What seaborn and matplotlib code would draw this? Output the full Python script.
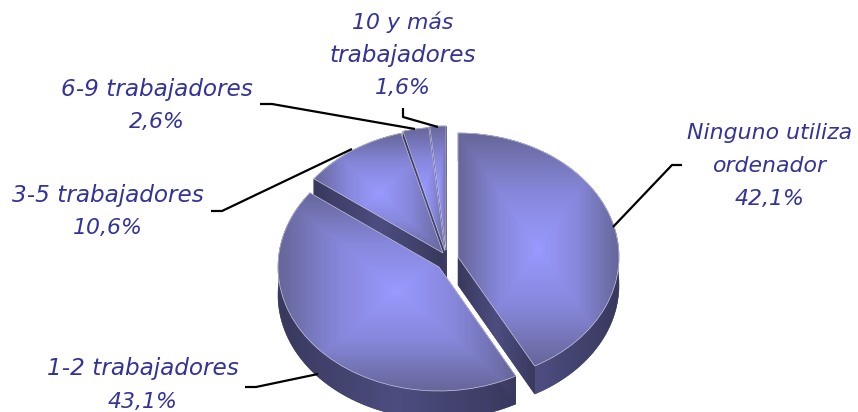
import numpy as np
import matplotlib
matplotlib.use("Agg")
import matplotlib.pyplot as plt
from matplotlib.patches import Polygon
import seaborn as sns

sns.set_theme(style="white")
plt.rcParams['font.family'] = ['DejaVu Sans']

# data, clockwise from 12 o'clock
categories = ["Ninguno utiliza\nordenador", "1-2 trabajadores", "3-5 trabajadores",
              "6-9 trabajadores", "10 y más\ntrabajadores"]
shares = [42.1, 43.1, 10.6, 2.6, 1.6]

# where things sit on the 858x412 canvas (pixels)
apex_px = [(458, 257), (439, 267), (443, 253), (445, 251), (446, 250)]
label_px = [(770, 133), (143, 369), (108, 195), (157, 89), (403, 22)]
leader_px = [
    [(682, 165), (672, 165), (613, 227)],
    [(245, 387), (256, 387), (318, 374)],
    [(211, 211), (222, 211), (352, 149)],
    [(260, 104), (272, 104), (415, 129)],
    [(403, 108), (403, 117), (438, 127)],
]
RX, RY, DEPTH = 161, 124, 28
W, H = 858, 412

top_cmap = sns.blend_palette(["#9999FF", "#8686da", "#666699"], as_cmap=True)
wall_cmap = sns.blend_palette(["#39395e", "#4d4d80", "#39395e"], as_cmap=True)

fig = plt.figure(figsize=(W / 100, H / 100), dpi=100)
ax = fig.add_axes([0, 0, 1, 1])
wedges, _ = ax.pie(shares, startangle=90, counterclock=False, radius=1,
                   wedgeprops=dict(facecolor="none", edgecolor="#c4c4e0", linewidth=0.5))


def shade(clip, box, values, cmap, z):
    im = ax.imshow(values, extent=box, cmap=cmap, vmin=0, vmax=1, aspect="auto",
                   interpolation="bilinear", zorder=z)
    im.set_clip_path(clip)


def wall(points, z):
    points = np.array(points)
    poly = Polygon(points, closed=True, facecolor="#3f3f68", edgecolor="#3f3f68",
                   linewidth=0.4, zorder=z)
    ax.add_patch(poly)
    x0, x1 = points[:, 0].min(), points[:, 0].max()
    y0, y1 = points[:, 1].min(), points[:, 1].max()
    shade(poly, (x0, x1, y0, y1), np.linspace(0, 1, 200)[None, :], wall_cmap, z + 0.01)


dy = DEPTH / RY
z = 2
# back to front
for i in [4, 3, 2, 0, 1]:
    w = wedges[i]
    cx, cy = apex_px[i][0] / RX, (H - apex_px[i][1]) / RY
    w.set_center((cx, cy))

    t = np.radians(np.linspace(w.theta1, w.theta2, 80))
    arc = np.column_stack([cx + np.cos(t), cy + np.sin(t)])
    down = np.array([0, dy])

    wall(np.vstack([arc, (arc - down)[::-1]]), z)
    for end in (arc[0], arc[-1]):
        wall([(cx, cy), end, end - down, (cx, cy - dy)], z + 0.1)

    ext = w.get_path().get_extents()
    gx, gy = np.meshgrid(np.linspace(-1, 1, 300), np.linspace(-1, 1, 300))
    shade(w, (ext.x0, ext.x1, ext.y0, ext.y1), np.maximum(abs(gx), abs(gy)), top_cmap, z + 0.2)
    w.set_zorder(z + 0.3)
    z += 1

ax.set_xlim(0, W / RX)
ax.set_ylim(0, H / RY)
ax.set_aspect("auto")
ax.axis("off")

# labels and leaders go on a pixel-sized overlay
ov = fig.add_axes([0, 0, 1, 1], zorder=5)
ov.set_xlim(0, W)
ov.set_ylim(H, 0)
ov.axis("off")
ov.patch.set_alpha(0)

for cat, val, (x, y), line in zip(categories, shares, label_px, leader_px):
    pct = f"{val:.1f}%".replace(".", ",")
    # one text per line, the original spaces them 33 px apart
    for k, row in enumerate(f"{cat}\n{pct}".split("\n")):
        size = 16.7 if "trabajadores" in row else 15.8
        ov.text(x, y + 33 * k, row, ha="center", va="center", color="#333399",
                style="italic", fontsize=size)
    xs, ys = zip(*line)
    ov.plot(xs, ys, color="black", lw=1.6, solid_capstyle="butt")

fig.savefig("out.png", dpi=100, facecolor="white")
